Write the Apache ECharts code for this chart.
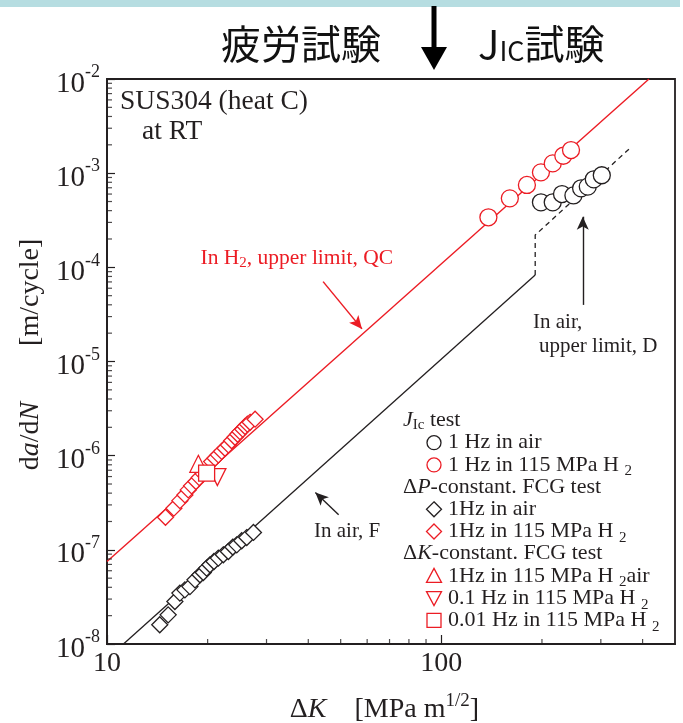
<!DOCTYPE html>
<html>
<head>
<meta charset="utf-8">
<script src="https://cdn.jsdelivr.net/npm/echarts@6/dist/echarts.min.js"></script>
<style>
html, body { margin: 0; padding: 0; background: #ffffff; }
#chart { width: 683px; height: 723px; }
</style>
</head>
<body>
<div id="chart"></div>
<script>
// Fatigue crack growth of SUS304 (heat C) at RT: ΔK [MPa m^1/2] vs da/dN [m/cycle]

// J_Ic test, 1 Hz in air
const jicAirK = [198.6, 215.4, 229.6, 248.4, 261.9, 274.2, 285.8, 302];
const jicAirRate = [4.9e-4, 4.9e-4, 6.0e-4, 5.8e-4, 6.9e-4, 7.2e-4, 8.6e-4, 9.5e-4];

// J_Ic test, 1 Hz in 115 MPa H2
const jicH2K = [138.3, 160.3, 180.3, 198.6, 215.4, 231.7, 244.3];
const jicH2Rate = [3.4e-4, 5.4e-4, 7.5e-4, 1.02e-3, 1.27e-3, 1.53e-3, 1.76e-3];

// ΔP-constant FCG test, 1 Hz in air
const dpAirK = [14.38, 15.24, 15.96, 16.52, 17.10, 17.70, 18.33, 18.97, 19.41, 19.86,
                20.32, 20.89, 21.53, 22.28, 23.07, 23.78, 24.44, 25.29, 26.18, 27.42];
const dpAirRate = [1.60e-8, 2.04e-8, 2.83e-8, 3.47e-8, 3.76e-8, 4.07e-8, 4.80e-8, 5.43e-8, 5.74e-8, 6.39e-8,
                   6.93e-8, 7.51e-8, 8.17e-8, 8.85e-8, 9.60e-8, 1.07e-7, 1.13e-7, 1.25e-7, 1.35e-7, 1.53e-7];

// ΔP-constant FCG test, 1 Hz in 115 MPa H2
const dpH2K = [14.96, 15.85, 16.52, 17.10, 17.50, 17.91, 18.45, 18.88, 19.41, 20.56,
               21.04, 21.53, 22.03, 22.54, 23.07, 23.60, 24.15, 24.60, 24.98, 25.47,
               25.88, 26.30, 26.79, 27.73];
const dpH2Rate = [2.22e-7, 2.77e-7, 3.33e-7, 3.83e-7, 4.33e-7, 4.78e-7, 5.31e-7, 5.85e-7, 6.41e-7, 8.65e-7,
                  9.40e-7, 1.02e-6, 1.11e-6, 1.20e-6, 1.30e-6, 1.44e-6, 1.57e-6, 1.69e-6, 1.80e-6, 1.91e-6,
                  2.04e-6, 2.16e-6, 2.26e-6, 2.44e-6];

// ΔK-constant FCG tests in 115 MPa H2
const dk1HzK = [18.76];   const dk1HzRate = [8.19e-7];
const dk01HzK = [21.39];  const dk01HzRate = [5.92e-7];
const dk001HzK = [19.86]; const dk001HzRate = [6.52e-7];

// Reference lines
const h2LimitK = [10, 418];            const h2LimitRate = [7.5e-8, 1e-2];
const airFK = [11.2, 190.9];           const airFRate = [1e-8, 8.3e-5];
const airDK = [190.9, 190.9, 364];     const airDRate = [8.3e-5, 2.2e-4, 1.8e-3];

// Annotation arrows (tail, head) in data units
const arrowQC = [[44.3, 7.05e-5], [57.9, 2.22e-5]];
const arrowF = [[49.3, 2.36e-7], [42.0, 4.06e-7]];
const arrowD = [[264.9, 3.99e-5], [264.9, 3.45e-4]];

// Axis ranges and minor tick positions
const kMin = 10, kMax = 500;
const rateMin = 1e-8, rateMax = 1e-2;
const kMinorTicks = [20, 30, 40, 50, 60, 70, 80, 90, 200, 300, 400];
const rateMantissas = [2, 3, 4, 5, 6, 7, 8, 9];
const rateDecades = [1e-8, 1e-7, 1e-6, 1e-5, 1e-4, 1e-3];

const RED = '#ec1c24';
const INK = '#231f20';
const SERIF = '"Liberation Serif", "Times New Roman", serif';
const CJK = '"Noto Sans CJK JP", "Noto Sans", sans-serif';

const zip = (a, b) => a.map((v, i) => [v, b[i]]);
const rateMinor = [];
rateDecades.forEach(d => rateMantissas.forEach(m => rateMinor.push([kMin, m * d])));

function marker(name, xs, ys, symbol, size, color, extra) {
  return Object.assign({
    name: name, type: 'scatter', data: zip(xs, ys), symbol: symbol, symbolSize: size,
    itemStyle: { color: '#ffffff', borderColor: color, borderWidth: 1.3, opacity: 1 },
    clip: false, silent: true, z: 4
  }, extra || {});
}

const chart = echarts.init(document.getElementById('chart'), null, { renderer: 'canvas' });

const LFS = 22;
const legendRich = {
  r: { fontSize: LFS, fontFamily: SERIF, fill: INK },
  i: { fontSize: LFS, fontFamily: SERIF, fontStyle: 'italic', fill: INK },
  sub: { fontSize: 15, fontFamily: SERIF, fill: INK, padding: [13, 0, 0, 0] },
  subIc: { fontSize: 15, fontFamily: SERIF, fill: INK, padding: [10, 0, 0, 0] }
};
function ltext(x, y, text, color) {
  const rich = JSON.parse(JSON.stringify(legendRich));
  if (color) Object.keys(rich).forEach(k => { rich[k].fill = color; });
  return { type: 'text', x: x, y: y, style: { text: text, rich: rich, verticalAlign: 'middle', align: 'left' }, z: 20 };
}
function circleSym(cx, cy, color) {
  return { type: 'circle', shape: { cx: cx, cy: cy, r: 7 }, style: { fill: '#fff', stroke: color, lineWidth: 1.3 }, z: 20 };
}
function polySym(points, color) {
  return { type: 'polygon', shape: { points: points }, style: { fill: '#fff', stroke: color, lineWidth: 1.3 }, z: 20 };
}

const lx = 403, sx = 434, tx = 448;
const rows = [420.5, 442.7, 464.9, 487.1, 509.3, 531.5, 553.7, 575.9, 598.1, 620.3];

const graphics = [
  // banner strip and heading
  { type: 'rect', shape: { x: 0, y: 0, width: 680, height: 7 }, style: { fill: '#b6dde1' }, z: 1 },
  { type: 'rect', shape: { x: 431.5, y: 6, width: 5, height: 46 }, style: { fill: '#000' }, z: 2 },
  { type: 'polygon', shape: { points: [[421, 47], [447, 47], [434, 70]] }, style: { fill: '#000' }, z: 2 },
  { type: 'text', x: 221, y: 44, style: { text: '疲労試験', font: '40px ' + CJK, fill: '#111', verticalAlign: 'middle' } },
  { type: 'text', x: 478, y: 44, style: {
      text: '{j|J}{s|IC}{j|試験}', verticalAlign: 'middle',
      rich: {
        j: { fontSize: 40, fontFamily: CJK, fill: '#111' },
        s: { fontSize: 27, fontFamily: CJK, fill: '#111', padding: [14, 0, 0, 0] }
      } } },

  // material note
  { type: 'text', x: 120, y: 102, style: { text: 'SUS304 (heat C)', font: '27.5px ' + SERIF, fill: INK, verticalAlign: 'middle' }, z: 20 },
  { type: 'text', x: 142, y: 131.5, style: { text: 'at RT', font: '27.5px ' + SERIF, fill: INK, verticalAlign: 'middle' }, z: 20 },

  // line annotations
  { type: 'text', x: 200.5, y: 258, style: {
      text: '{r|In H}{sub|2}{r|, upper limit, QC}', verticalAlign: 'middle',
      rich: {
        r: { fontSize: 21.5, fontFamily: SERIF, fill: RED },
        sub: { fontSize: 15, fontFamily: SERIF, fill: RED, padding: [11, 0, 0, 0] }
      } }, z: 20 },
  { type: 'text', x: 314, y: 531, style: { text: 'In air, F', font: '21px ' + SERIF, fill: INK, verticalAlign: 'middle' }, z: 20 },
  { type: 'text', x: 533, y: 322, style: { text: 'In air,', font: '21px ' + SERIF, fill: INK, verticalAlign: 'middle' }, z: 20 },
  { type: 'text', x: 539, y: 346, style: { text: 'upper limit, D', font: '21px ' + SERIF, fill: INK, verticalAlign: 'middle' }, z: 20 },

  // key
  ltext(lx, rows[0], '{i|J}{subIc|Ic}{r| test}'),
  circleSym(sx, rows[1], INK), ltext(tx, rows[1], '{r|1 Hz in air}'),
  circleSym(sx, rows[2], RED), ltext(tx, rows[2], '{r|1 Hz in 115 MPa H }{sub|2}'),
  ltext(lx, rows[3], '{r|Δ}{i|P}{r|-constant. FCG test}'),
  polySym([[sx, rows[4] - 7.5], [sx + 7.5, rows[4]], [sx, rows[4] + 7.5], [sx - 7.5, rows[4]]], INK),
  ltext(tx, rows[4], '{r|1Hz in air}'),
  polySym([[sx, rows[5] - 7.5], [sx + 7.5, rows[5]], [sx, rows[5] + 7.5], [sx - 7.5, rows[5]]], RED),
  ltext(tx, rows[5], '{r|1Hz in 115 MPa H }{sub|2}'),
  ltext(lx, rows[6], '{r|Δ}{i|K}{r|-constant. FCG test}'),
  polySym([[sx, rows[7] - 7.5], [sx + 7.5, rows[7] + 6.5], [sx - 7.5, rows[7] + 6.5]], RED),
  ltext(tx, rows[7], '{r|1Hz in 115 MPa H }{sub|2}{r|air}'),
  polySym([[sx - 7.5, rows[8] - 6.5], [sx + 7.5, rows[8] - 6.5], [sx, rows[8] + 7.5]], RED),
  ltext(tx, rows[8], '{r|0.1 Hz in 115 MPa H }{sub|2}'),
  { type: 'rect', shape: { x: sx - 7, y: rows[9] - 7, width: 14, height: 14 }, style: { fill: '#fff', stroke: RED, lineWidth: 1.3 }, z: 20 },
  ltext(tx, rows[9], '{r|0.01 Hz in 115 MPa H }{sub|2}')
];

const option = {
  animation: false,
  backgroundColor: '#ffffff',
  grid: {
    left: 107, right: 8, top: 79, bottom: 79, containLabel: false, outerBoundsMode: 'none',
    show: true, borderColor: INK, borderWidth: 1.8, backgroundColor: 'transparent'
  },
  xAxis: {
    type: 'log', logBase: 10, min: kMin, max: kMax,
    name: '{r|Δ}{i|K}{r|    [MPa m}{sup|1/2}{r|]}',
    nameLocation: 'middle', nameGap: 48,
    nameTextStyle: {
      color: INK, fontFamily: SERIF, fontSize: 28, padding: [0, 13, 0, 0],
      rich: {
        r: { fontSize: 28, fontFamily: SERIF, color: INK },
        i: { fontSize: 28, fontFamily: SERIF, color: INK, fontStyle: 'italic' },
        sup: { fontSize: 19, fontFamily: SERIF, color: INK, padding: [0, 0, 16, 0] }
      }
    },
    axisLine: { show: true, lineStyle: { color: INK, width: 1.8 } },
    axisTick: { show: true, inside: true, length: 9, lineStyle: { color: INK, width: 1.2 } },
    axisLabel: {
      margin: 6, color: INK, fontFamily: SERIF, fontSize: 28,
      showMaxLabel: false,
      formatter: v => String(Math.round(v))
    },
    splitLine: { show: false },
    minorTick: { show: false }
  },
  yAxis: {
    type: 'log', logBase: 10, min: rateMin, max: rateMax,
    name: '{r|d}{i|a}{r|/d}{i|N}{r|        [m/cycle]}',
    nameLocation: 'middle', nameGap: 56, nameRotate: 90,
    nameTextStyle: {
      color: INK, fontFamily: SERIF, fontSize: 28, padding: [0, 0, 0, 14],
      rich: {
        r: { fontSize: 28, fontFamily: SERIF, color: INK },
        i: { fontSize: 28, fontFamily: SERIF, color: INK, fontStyle: 'italic' }
      }
    },
    axisLine: { show: true, lineStyle: { color: INK, width: 1.8 } },
    axisTick: { show: true, inside: true, length: 8, lineStyle: { color: INK, width: 1.2 } },
    axisLabel: {
      margin: 7, color: INK,
      formatter: v => '{b|10}{s|' + Math.round(Math.log10(v)) + '}',
      rich: {
        b: { fontSize: 29, fontFamily: SERIF, color: INK, padding: [10, 0, 0, 0] },
        s: { fontSize: 18, fontFamily: SERIF, color: INK, padding: [0, 0, 13, 0] }
      }
    },
    splitLine: { show: false },
    minorTick: { show: false }
  },
  graphic: graphics,
  series: [
    {
      name: 'In H2, upper limit, QC', type: 'line', data: zip(h2LimitK, h2LimitRate),
      symbol: 'none', lineStyle: { color: RED, width: 1.4 }, silent: true, z: 2,
      markLine: {
        silent: true, symbol: ['none', 'arrow'], symbolSize: [9, 13], animation: false,
        label: { show: false }, lineStyle: { color: RED, width: 1.5, type: 'solid' },
        data: [[{ coord: arrowQC[0] }, { coord: arrowQC[1] }]]
      }
    },
    {
      name: 'In air, F', type: 'line', data: zip(airFK, airFRate),
      symbol: 'none', lineStyle: { color: INK, width: 1.3 }, silent: true, z: 2,
      markLine: {
        silent: true, symbol: ['none', 'arrow'], symbolSize: [9, 13], animation: false,
        label: { show: false }, lineStyle: { color: INK, width: 1.4, type: 'solid' },
        data: [
          [{ coord: arrowF[0] }, { coord: arrowF[1] }],
          [{ coord: arrowD[0] }, { coord: arrowD[1] }]
        ]
      }
    },
    {
      name: 'In air, upper limit, D', type: 'line', data: zip(airDK, airDRate),
      symbol: 'none', lineStyle: { color: INK, width: 1.3, type: [5, 4] }, silent: true, z: 2
    },
    marker('ΔP 1Hz in air', dpAirK, dpAirRate, 'diamond', 16, INK),
    marker('ΔP 1Hz in H2', dpH2K, dpH2Rate, 'diamond', 16, RED),
    marker('Jic 1 Hz in air', jicAirK, jicAirRate, 'circle', 17, INK),
    marker('Jic 1 Hz in H2', jicH2K, jicH2Rate, 'circle', 17, RED),
    marker('ΔK 1Hz in H2', dk1HzK, dk1HzRate, 'triangle', 17, RED),
    marker('ΔK 0.1Hz in H2', dk01HzK, dk01HzRate, 'triangle', 17, RED, { symbolRotate: 180 }),
    marker('ΔK 0.01Hz in H2', dk001HzK, dk001HzRate, 'rect', 16, RED),
    {
      name: 'k minor ticks', type: 'scatter', silent: true, clip: false, z: 6,
      data: kMinorTicks.map(k => [k, rateMin]),
      symbol: 'rect', symbolSize: [1.2, 5], symbolOffset: [0, -2.5],
      itemStyle: { color: INK }
    },
    {
      name: 'rate minor ticks', type: 'scatter', silent: true, clip: false, z: 6,
      data: rateMinor,
      symbol: 'rect', symbolSize: [5, 1.2], symbolOffset: [2.5, 0],
      itemStyle: { color: INK }
    }
  ]
};

chart.setOption(option);
</script>
</body>
</html>
